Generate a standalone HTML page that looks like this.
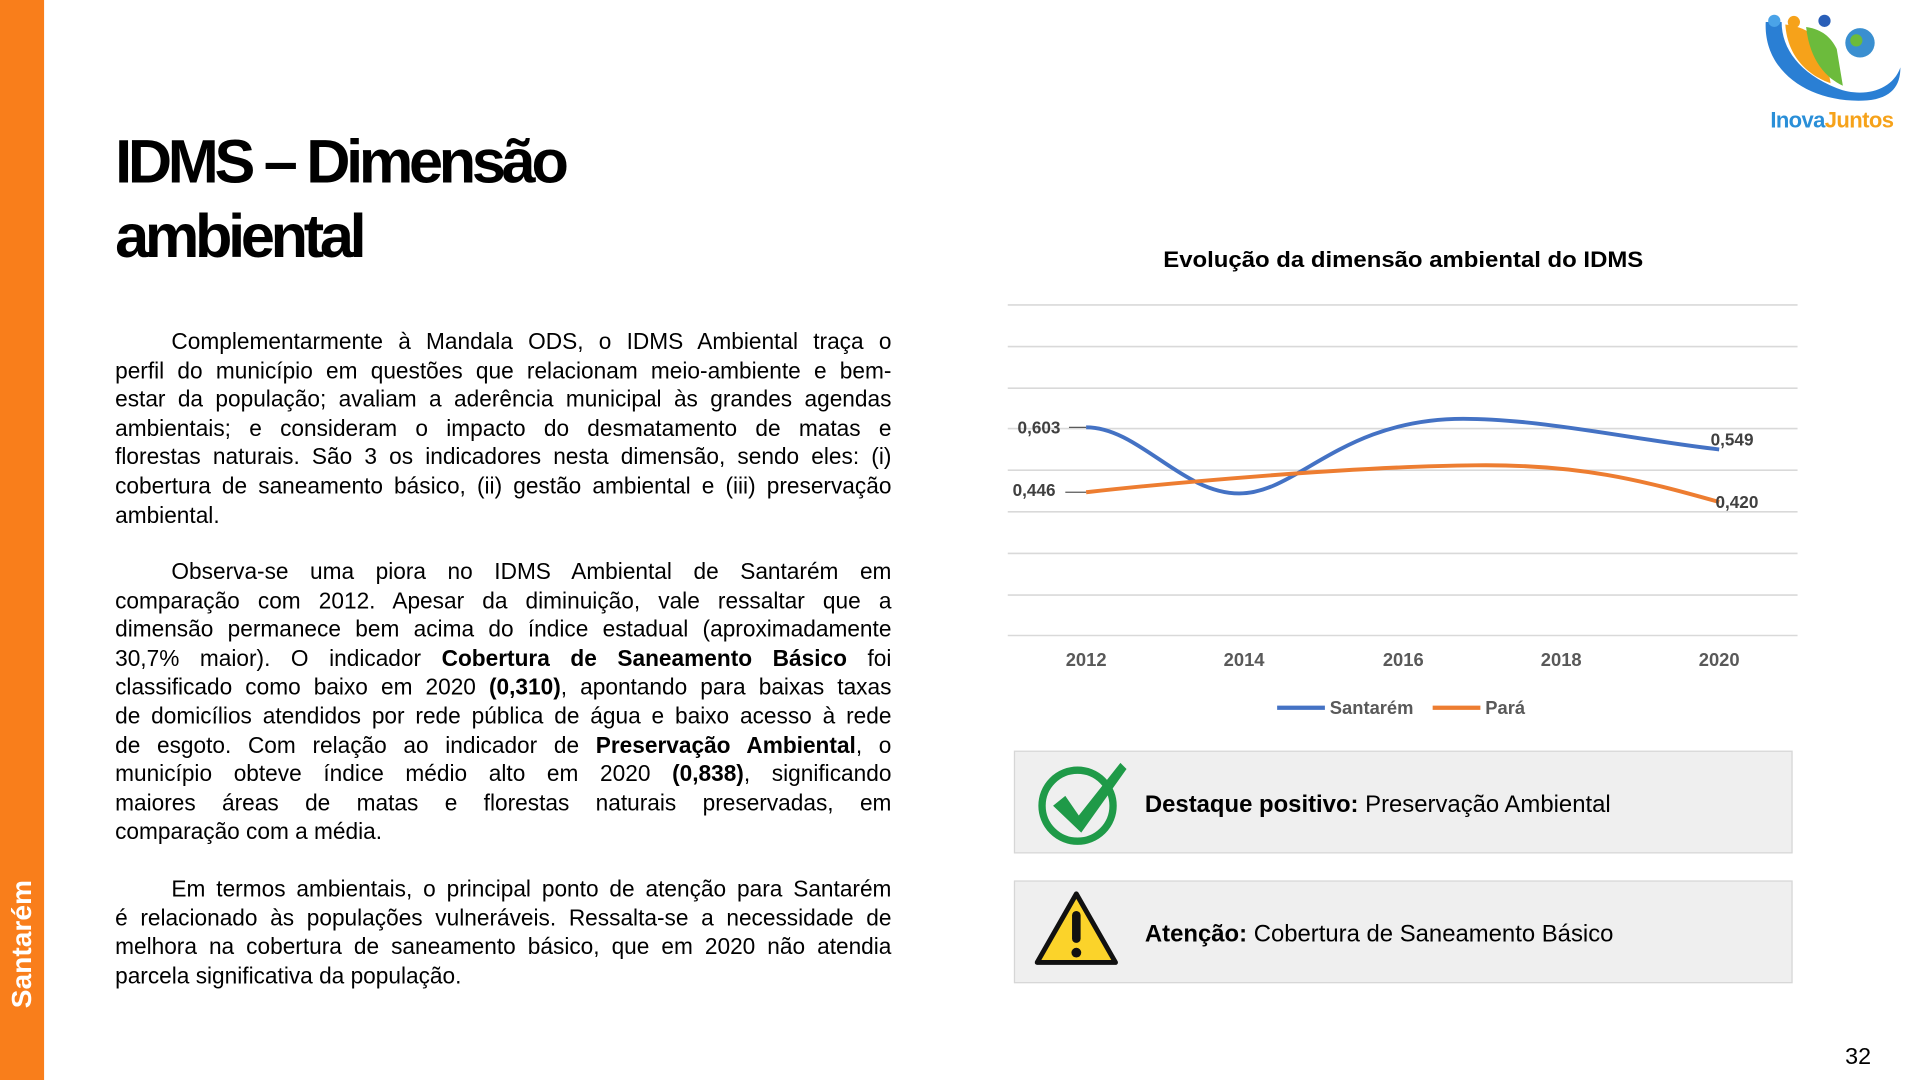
<!DOCTYPE html>
<html><head><meta charset="utf-8"><style>
html,body{margin:0;padding:0;background:#fff;overflow:hidden}
body{width:1920px;height:1080px}
#w{position:absolute;left:0;top:0;width:1568px;height:882px;transform:scale(1.22449);transform-origin:0 0;font-family:"Liberation Sans",sans-serif;color:#000}
.bar{position:absolute;left:0;top:0;width:36px;height:882px;background:#F97E1B}
.side{position:absolute;left:18px;top:771px;transform:translate(-50%,-50%) rotate(-90deg);color:#fff;font-weight:bold;font-size:23px;white-space:nowrap}
.title{position:absolute;left:94px;top:102px;font-size:50px;font-weight:bold;letter-spacing:-3.5px;line-height:61px}
.p{position:absolute;left:94px;width:634px;font-size:18.5px;line-height:23.6px}
.p div{text-align:justify;text-align-last:justify;white-space:nowrap;overflow:visible}
.p div.l{text-align-last:left}
.ind{padding-left:46px}
.box{position:absolute;left:828px;width:634px;height:82px;background:#efefef;border:1px solid #d6d6d6}
.bt{position:absolute;left:106px;top:32px;font-size:19.5px}
</style></head><body><div id="w">
<div class="bar"></div>
<div class="side">Santarém</div>
<div class="title">IDMS – Dimensão<br>ambiental</div>

<div class="p" style="top:267px">
<div class="ind">Complementarmente à Mandala ODS, o IDMS Ambiental traça o</div>
<div>perfil do município em questões que relacionam meio-ambiente e bem-</div>
<div>estar da população; avaliam a aderência municipal às grandes agendas</div>
<div>ambientais; e consideram o impacto do desmatamento de matas e</div>
<div>florestas naturais. São 3 os indicadores nesta dimensão, sendo eles: (i)</div>
<div>cobertura de saneamento básico, (ii) gestão ambiental e (iii) preservação</div>
<div class="l">ambiental.</div>
</div>
<div class="p" style="top:455px">
<div class="ind">Observa-se uma piora no IDMS Ambiental de Santarém em</div>
<div>comparação com 2012. Apesar da diminuição, vale ressaltar que a</div>
<div>dimensão permanece bem acima do índice estadual (aproximadamente</div>
<div>30,7% maior). O indicador <b>Cobertura de Saneamento Básico</b> foi</div>
<div>classificado como baixo em 2020 <b>(0,310)</b>, apontando para baixas taxas</div>
<div>de domicílios atendidos por rede pública de água e baixo acesso à rede</div>
<div>de esgoto. Com relação ao indicador de <b>Preservação Ambiental</b>, o</div>
<div>município obteve índice médio alto em 2020 <b>(0,838)</b>, significando</div>
<div>maiores áreas de matas e florestas naturais preservadas, em</div>
<div class="l">comparação com a média.</div>
</div>
<div class="p" style="top:714px">
<div class="ind">Em termos ambientais, o principal ponto de atenção para Santarém</div>
<div>é relacionado às populações vulneráveis. Ressalta-se a necessidade de</div>
<div>melhora na cobertura de saneamento básico, que em 2020 não atendia</div>
<div class="l">parcela significativa da população.</div>
</div>

<svg style="position:absolute;left:0;top:0" width="1568" height="882" font-family="Liberation Sans, sans-serif">
<text x="950" y="218" font-size="18" font-weight="bold" textLength="392" lengthAdjust="spacingAndGlyphs">Evolução da dimensão ambiental do IDMS</text>
<g stroke="#d9d9d9" stroke-width="1.3">
<line x1="823" x2="1468" y1="249" y2="249"/><line x1="823" x2="1468" y1="283" y2="283"/>
<line x1="823" x2="1468" y1="317" y2="317"/><line x1="823" x2="1468" y1="350" y2="350"/>
<line x1="823" x2="1468" y1="384" y2="384"/><line x1="823" x2="1468" y1="418" y2="418"/>
<line x1="823" x2="1468" y1="452" y2="452"/><line x1="823" x2="1468" y1="486" y2="486"/>
<line x1="823" x2="1468" y1="519" y2="519"/>
</g>
<g fill="#595959" font-size="15" font-weight="bold" text-anchor="middle">
<text x="887" y="544">2012</text><text x="1016" y="544">2014</text><text x="1146" y="544">2016</text><text x="1275" y="544">2018</text><text x="1404" y="544">2020</text>
</g>
<path d="M887,349 C930,349 965,403 1012,403 C1060,403 1095,342 1195,342 C1260,342 1340,360 1404,367" fill="none" stroke="#4472C4" stroke-width="3.2"/>
<path d="M887,402 C950,395 1100,381 1205,380 C1290,379 1340,392 1404,410" fill="none" stroke="#ED7D31" stroke-width="3.2"/>
<g stroke="#595959" stroke-width="1"><line x1="873" x2="887" y1="349" y2="349"/><line x1="870" x2="887" y1="402" y2="402"/></g>
<g fill="#404040" font-size="14" font-weight="bold">
<text x="831" y="354">0,603</text><text x="827" y="405">0,446</text><text x="1397" y="364">0,549</text><text x="1401" y="415">0,420</text>
</g>
<line x1="1043" x2="1082" y1="578" y2="578" stroke="#4472C4" stroke-width="3.5"/>
<line x1="1170" x2="1209" y1="578" y2="578" stroke="#ED7D31" stroke-width="3.5"/>
<g fill="#595959" font-size="15" font-weight="bold"><text x="1086" y="583">Santarém</text><text x="1213" y="583">Pará</text></g>
<text x="1528" y="869" text-anchor="end" font-size="19">32</text>
<path d="M1442,18 C1440,60 1480,85 1525,82 C1545,80 1552,70 1552,55 C1545,75 1520,80 1500,72 C1470,60 1455,40 1455,18 Z" fill="#2a7fd4"/>
<path d="M1458,20 C1460,48 1478,62 1495,68 L1490,40 C1485,30 1475,22 1458,20 Z" fill="#f6a21a"/>
<path d="M1475,22 C1478,50 1492,64 1505,70 L1500,40 C1495,30 1488,24 1475,22 Z" fill="#6cbb3c"/>
<circle cx="1449" cy="17" r="5" fill="#4aa3e8"/><circle cx="1465" cy="18" r="5" fill="#f6a21a"/><circle cx="1490" cy="17" r="5" fill="#2a5fb8"/>
<circle cx="1519" cy="35" r="12" fill="#3a8fd0"/><circle cx="1516" cy="33" r="5" fill="#6cbb3c"/>
<text x="1496" y="104" text-anchor="middle" font-size="18" font-weight="bold" letter-spacing="-0.5"><tspan fill="#2a8fd8">Inova</tspan><tspan fill="#f6a21a">Juntos</tspan></text>
</svg>

<div class="box" style="top:613px">
<svg style="position:absolute;left:16px;top:4px" width="80" height="74">
<circle cx="35" cy="40" r="29" fill="none" stroke="#1f9a48" stroke-width="6"/>
<path d="M15,40 L25,32 L36,48 L70,5 L75,10 L38,62 Z" fill="#1f9a48"/>
</svg>
<div class="bt"><b>Destaque positivo:</b> Preservação Ambiental</div>
</div>
<div class="box" style="top:719px">
<svg style="position:absolute;left:16px;top:6px" width="72" height="66">
<path d="M34,4 L66,60 L2,60 Z" fill="#fbd32a" stroke="#111" stroke-width="4" stroke-linejoin="round"/>
<rect x="30.5" y="18" width="7" height="26" rx="3.5" fill="#111"/><circle cx="34" cy="52" r="4" fill="#111"/>
</svg>
<div class="bt"><b>Atenção:</b> Cobertura de Saneamento Básico</div>
</div>
</div></body></html>
